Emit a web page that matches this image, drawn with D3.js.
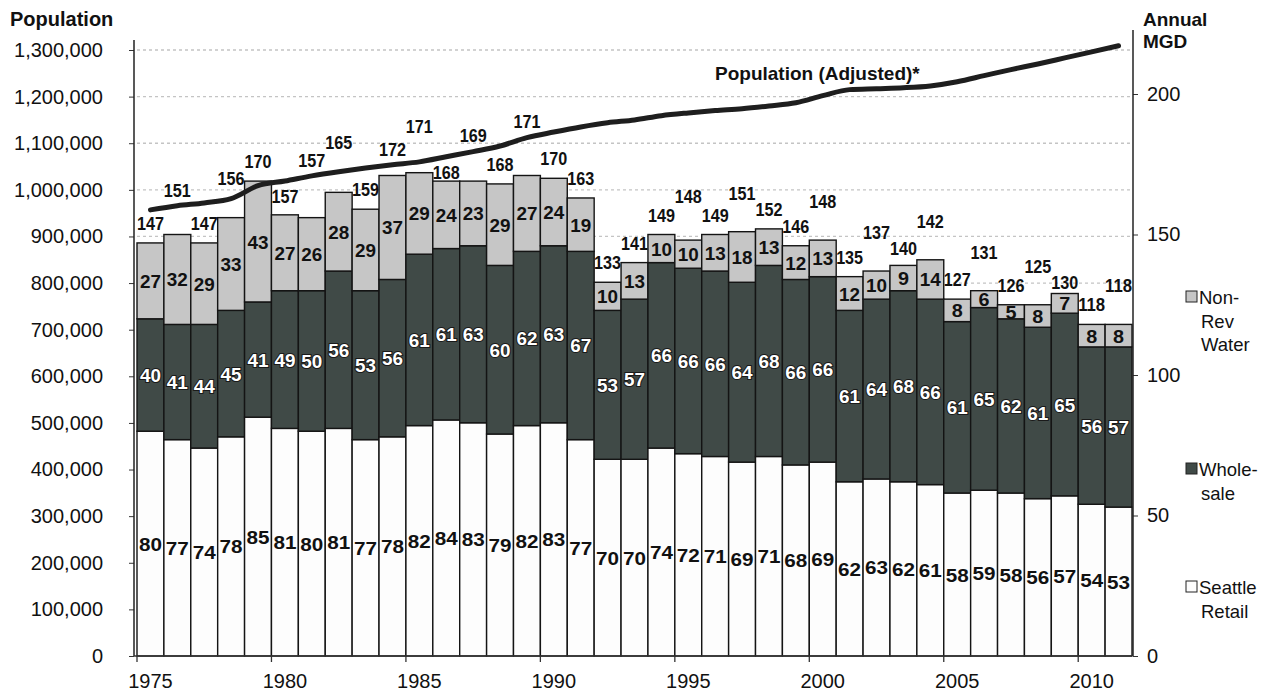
<!DOCTYPE html>
<html><head><meta charset="utf-8">
<script src="https://cdn.jsdelivr.net/npm/d3@7/dist/d3.min.js"></script>
<style>
body{margin:0;background:#fff;}
svg{display:block;font-family:"Liberation Sans",Arial,sans-serif;}
</style></head>
<body>
<svg id="c" width="1273" height="694"></svg>
<script>
const years = d3.range(1975, 2012);
const retail = [80,77,74,78,85,81,80,81,77,78,82,84,83,79,82,83,77,70,70,74,72,71,69,71,68,69,62,63,62,61,58,59,58,56,57,54,53];
const wholesale = [40,41,44,45,41,49,50,56,53,56,61,61,63,60,62,63,67,53,57,66,66,66,64,68,66,66,61,64,68,66,61,65,62,61,65,56,57];
const nonRev = [27,32,29,33,43,27,26,28,29,37,29,24,23,29,27,24,19,10,13,10,10,13,18,13,12,13,12,10,9,14,8,6,5,8,7,8,8];
const totals = [147,151,147,156,170,157,157,165,159,172,171,168,169,168,171,170,163,133,141,149,148,149,151,152,146,148,135,137,140,142,127,131,126,125,130,118,118];
const population = [957000,966000,972000,981000,1009000,1019000,1030000,1039000,1047000,1054000,1060000,1071000,1082000,1094000,1112000,1124000,1135000,1144000,1150000,1159000,1165000,1170000,1174000,1180000,1187000,1202000,1215000,1217000,1219000,1223000,1232000,1245000,1258000,1270000,1283000,1296000,1309000];
const popTicks = d3.range(0, 1300001, 100000);
const mgdTicks = [0,50,100,150,200];
const yearTicks = [1975,1980,1985,1990,1995,2000,2005,2010];

const svg = d3.select("#c");
const L = 137, R = 1132, B = 656;
const x = d3.scaleBand().domain(years).range([L, R]).padding(0);
const yL = d3.scaleLinear().domain([0,1300000]).range([B, 50]);
const yR = d3.scaleLinear().domain([0,200]).range([B, 94]);

const cWhole = "#404a47", cNon = "#c6c6c6", cRet = "#fdfdfd";

// gridlines
svg.append("g").selectAll("line").data(popTicks.filter(d=>d>0)).join("line")
  .attr("x1", L).attr("x2", R).attr("y1", d=>yL(d)).attr("y2", d=>yL(d))
  .attr("stroke", "#c4c4c4").attr("stroke-width", 1.3).attr("stroke-dasharray", "3,3");

// stacked bars
const rows = years.map((yr,i)=>({yr, r:retail[i], w:wholesale[i], n:nonRev[i], t:totals[i], p:population[i]}));
const g = svg.append("g");
rows.forEach(d=>{
  const x0 = x(d.yr), bw = x.bandwidth();
  const segs = [[0,d.r,cRet],[d.r,d.r+d.w,cWhole],[d.r+d.w,d.r+d.w+d.n,cNon]];
  segs.forEach(s=>{
    g.append("rect").attr("x", x0).attr("width", bw)
      .attr("y", yR(s[1])).attr("height", yR(s[0])-yR(s[1]))
      .attr("fill", s[2]).attr("stroke", "#141414").attr("stroke-width", 1.4);
  });
});

// population line
svg.append("path").datum(rows)
  .attr("fill","none").attr("stroke","#1e1e1e").attr("stroke-width",5)
  .attr("stroke-linejoin","round").attr("stroke-linecap","round")
  .attr("d", d3.line().x(d=>x(d.yr)+x.bandwidth()/2).y(d=>yL(d.p)).curve(d3.curveMonotoneX));

// labels
const lab = svg.append("g").attr("text-anchor","middle").attr("font-weight","bold");
rows.forEach(d=>{
  const cx = x(d.yr)+x.bandwidth()/2;
  lab.append("text").attr("x",cx).attr("y",yR(d.r/2)+7).attr("font-size",19)
    .attr("fill","#111").attr("textLength", 23).attr("lengthAdjust","spacingAndGlyphs").text(d.r);
  lab.append("text").attr("x",cx).attr("y",yR(d.r+d.w/2)+7).attr("font-size",18)
    .attr("fill","#ffffff").attr("stroke","#1a1a1a").attr("stroke-width",2).attr("paint-order","stroke")
    .attr("textLength", 21).attr("lengthAdjust","spacingAndGlyphs").text(d.w);
  lab.append("text").attr("x",cx).attr("y",yR(d.r+d.w+d.n/2)+7).attr("font-size",18)
    .attr("fill","#111").attr("textLength", d.n>=10?21:11).attr("lengthAdjust","spacingAndGlyphs").text(d.n);
});
// total labels: avoid the population line and alternate when neighbours collide
let prevB = null, prevRaised = false;
rows.forEach((d,i)=>{
  const cx = x(d.yr)+x.bandwidth()/2;
  const top = yR(d.r+d.w+d.n), ly = yL(d.p);
  const lyPrev = i>0 ? (ly + yL(rows[i-1].p))/2 : ly;
  const lyNext = i<rows.length-1 ? (ly + yL(rows[i+1].p))/2 : ly;
  const lyTop = Math.min(ly, lyPrev, lyNext), lyBot = Math.max(ly, lyPrev, lyNext);
  const over = b => b > lyTop - 6 && b - 14 < lyBot + 5;
  let b = top - 13, raised = false;
  if (over(b)) {
    const above = lyTop - 7, below = lyBot + 20;
    b = (below <= top - 1 && (below - b) < (b - above) - 5) ? below : above;
  }
  if (prevB !== null && Math.abs(b - prevB) < 16) {
    if (!prevRaised) {
      b = Math.min(b, prevB) - 19; raised = true;
      if (over(b)) b = lyTop - 7;
    } else {
      const down = prevB + 16;
      if (b >= prevB - 4 && down <= top - 1 && !over(down)) { b = down; }
      else { b = prevB - 18; raised = true; }
    }
  }
  prevB = b; prevRaised = raised;
  lab.append("text").attr("x",cx).attr("y",b).attr("font-size",18)
    .attr("fill","#111").attr("textLength", 27).attr("lengthAdjust","spacingAndGlyphs").text(d.t);
});

// axes
const axL = svg.append("g").attr("transform",`translate(${L-3},0)`)
  .call(d3.axisLeft(yL).tickValues(popTicks).tickFormat(d3.format(",")).tickSize(5).tickPadding(26));
axL.select(".domain").remove();
axL.append("line").attr("x1",0).attr("x2",0).attr("y1",40).attr("y2",B).attr("stroke","#222").attr("stroke-width",1.5);
axL.selectAll("text").attr("font-size",20).attr("fill","#111").attr("font-family","Liberation Sans, Arial, sans-serif");
axL.selectAll(".tick line").attr("stroke","#333");

const axR = svg.append("g").attr("transform",`translate(${R+1},0)`)
  .call(d3.axisRight(yR).tickValues(mgdTicks).tickSize(5).tickPadding(9));
axR.select(".domain").remove();
axR.append("line").attr("x1",0).attr("x2",0).attr("y1",30).attr("y2",B).attr("stroke","#222").attr("stroke-width",1.5);
axR.selectAll("text").attr("font-size",20).attr("fill","#111").attr("font-family","Liberation Sans, Arial, sans-serif");
axR.selectAll(".tick line").attr("stroke","#333");

const axB = svg.append("g");
axB.append("line").attr("x1",L-3).attr("x2",R).attr("y1",B).attr("y2",B).attr("stroke","#333").attr("stroke-width",1.3);
axB.selectAll("line.t").data(yearTicks).join("line").attr("class","t")
  .attr("x1",d=>x(d)).attr("x2",d=>x(d)).attr("y1",B).attr("y2",B+6).attr("stroke","#333").attr("stroke-width",1.3);
axB.selectAll("text").data(yearTicks).join("text")
  .attr("x",d=>x(d)+x.bandwidth()/2).attr("y",B+32).attr("text-anchor","middle")
  .attr("font-size",20).attr("fill","#111").text(d=>d);

// titles
svg.append("text").attr("x",10).attr("y",26).attr("font-size",20).attr("font-weight","bold").attr("fill","#111").text("Population");
svg.append("text").attr("x",1143).attr("y",26).attr("font-size",19).attr("font-weight","bold").attr("fill","#111").text("Annual");
svg.append("text").attr("x",1143).attr("y",48).attr("font-size",19).attr("font-weight","bold").attr("fill","#111").text("MGD");
svg.append("text").attr("x",715).attr("y",80).attr("font-size",19).attr("font-weight","bold").attr("fill","#111").text("Population (Adjusted)*");

// legend
const legend = [
  {c:cNon, lines:["Non-","Rev","Water"], y:304},
  {c:cWhole, lines:["Whole-","sale"], y:476},
  {c:cRet, lines:["Seattle","Retail"], y:594}
];
const lg = svg.append("g");
legend.forEach(it=>{
  lg.append("rect").attr("x",1186).attr("y",it.y-13).attr("width",11).attr("height",11)
    .attr("fill",it.c).attr("stroke","#222").attr("stroke-width",1);
  it.lines.forEach((t,k)=>{
    lg.append("text").attr("x",k===0?1199:1201).attr("y",it.y+k*23.5).attr("font-size",18.5).attr("fill","#111").text(t);
  });
});
</script>
</body></html>
